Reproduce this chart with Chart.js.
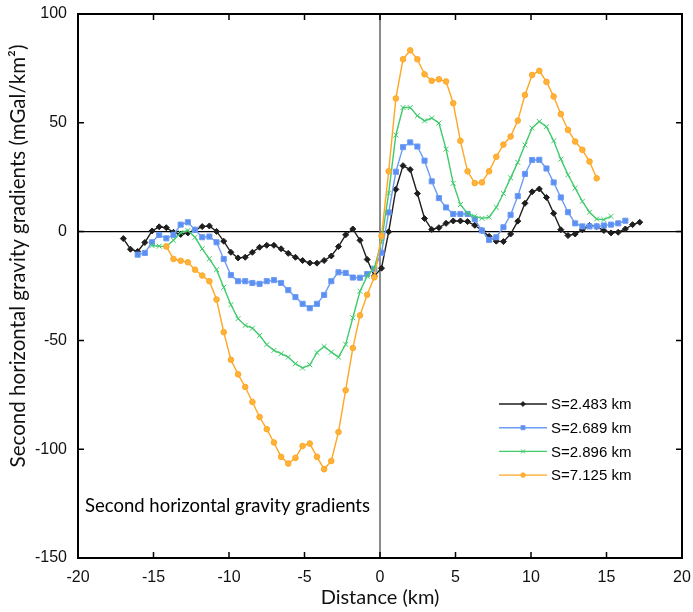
<!DOCTYPE html>
<html>
<head>
<meta charset="utf-8">
<script src="https://cdn.jsdelivr.net/npm/chart.js@4"></script>
<style>
  html, body { margin: 0; padding: 0; background: #fff; }
  #wrap { width: 693px; height: 612px; }
</style>
</head>
<body>
<div id="wrap"><canvas id="gradChart" width="693" height="612"></canvas></div>
<script>
// Profile distance (km)
const distance = [
  -17.0, -16.525, -16.05, -15.575, -15.1, -14.625, -14.15, -13.675, -13.2, -12.725,
  -12.25, -11.775, -11.3, -10.825, -10.35, -9.875, -9.4, -8.925, -8.45, -7.975,
  -7.5, -7.025, -6.55, -6.075, -5.6, -5.125, -4.65, -4.175, -3.7, -3.225,
  -2.75, -2.275, -1.8, -1.325, -0.85, -0.375, 0.1, 0.575, 1.05, 1.525,
  2.0, 2.475, 2.95, 3.425, 3.9, 4.375, 4.85, 5.325, 5.8, 6.275,
  6.75, 7.225, 7.7, 8.175, 8.65, 9.125, 9.6, 10.075, 10.55, 11.025,
  11.5, 11.975, 12.45, 12.925, 13.4, 13.875, 14.35, 14.825, 15.3, 15.775,
  16.25, 16.725, 17.2
];

// S=2.483 km
const s2483 = [
  -3.2, -8.1, -9.1, -5.0, 0.3, 2.2, 1.8, -0.3, -1.3, -0.6,
  0.8, 2.3, 2.6, 0.1, -4.4, -9.5, -12.1, -11.8, -9.5, -7.2,
  -6.3, -6.3, -7.9, -10.0, -11.8, -13.3, -14.4, -14.5, -13.3, -11.2,
  -6.9, -1.5, 1.2, -4.0, -12.8, -20.4, -16.8, -0.1, 19.4, 30.3,
  28.5, 17.5, 6.0, 1.0, 1.8, 3.8, 4.9, 4.9, 4.6, 2.9,
  0.5, -2.2, -4.4, -4.6, -1.1, 4.8, 13.0, 18.3, 19.6, 15.7,
  8.4, 0.9, -1.8, -1.1, 0.8, 2.8, 2.3, 0.5, -0.6, -0.3,
  1.2, 3.2, 4.3
];

// S=2.689 km
const s2689 = [
  null, null, -10.6, -9.8, -4.9, -1.5, -3.1, -1.5, 3.2, 4.3,
  0.8, -2.6, -2.3, -4.9, -12.6, -20.0, -22.8, -22.8, -23.6, -24.0,
  -22.8, -22.3, -23.6, -26.9, -30.1, -33.2, -35.2, -33.2, -29.1, -22.8,
  -18.7, -19.0, -21.1, -21.2, -19.5, -17.1, -9.7, 8.8, 27.5, 38.8,
  41.0, 39.1, 32.6, 23.1, 15.4, 11.1, 8.1, 8.1, 8.1, 5.7,
  0.5, -3.8, -2.6, 2.0, 7.7, 16.3, 26.5, 32.9, 33.0, 29.0,
  22.6, 15.7, 8.9, 3.8, 2.4, 2.4, 2.4, 2.8, 3.2, 3.8,
  5.0, null, null
];

// S=2.896 km
const s2896 = [
  null, null, null, null, -6.4, -6.7, -6.8, -4.0, -0.5, 0.5,
  -2.6, -7.9, -12.5, -17.5, -25.6, -33.6, -40.0, -43.1, -44.4, -47.7,
  -52.0, -54.6, -56.1, -57.7, -60.7, -62.7, -61.2, -55.6, -52.8, -55.4,
  -57.7, -51.8, -39.6, -27.4, -20.5, -16.7, -4.6, 17.7, 44.4, 57.0,
  57.0, 53.2, 50.9, 52.2, 49.9, 37.9, 22.2, 12.4, 8.4, 7.0,
  6.1, 6.6, 11.1, 17.5, 24.7, 31.8, 39.8, 47.6, 50.6, 48.2,
  41.7, 33.3, 26.1, 20.0, 13.9, 8.9, 5.8, 5.5, 7.0, null,
  null, null, null
];

// S=7.125 km
const s7125 = [
  null, null, null, null, null, null, -6.8, -12.6, -13.4, -14.1,
  -17.5, -20.2, -22.8, -31.2, -46.2, -58.9, -65.6, -71.4, -78.3, -85.2,
  -90.8, -96.9, -103.5, -106.6, -104.0, -98.5, -97.4, -103.5, -109.2, -105.4,
  -92.1, -72.9, -53.5, -38.5, -29.0, -21.0, -2.0, 27.7, 61.2, 79.2,
  83.3, 79.2, 72.3, 69.3, 70.0, 69.0, 59.0, 41.7, 27.7, 22.3,
  22.6, 27.7, 34.4, 40.0, 43.7, 51.0, 62.8, 72.0, 73.9, 68.8,
  62.1, 54.0, 46.7, 41.4, 37.6, 32.2, 24.5, null, null, null,
  null, null, null
];

const seriesLabels = ['S=2.483 km', 'S=2.689 km', 'S=2.896 km', 'S=7.125 km'];
const xTicks = [-20, -15, -10, -5, 0, 5, 10, 15, 20];
const yTicks = [-150, -100, -50, 0, 50, 100];
const annotationText = 'Second horizontal gravity gradients';
const yTitleText = 'Second horizontal gravity gradients (mGal/km²)';

const toPoints = vals => vals
  .map((v, i) => ({ x: distance[i], y: v }))
  .filter(p => p.y !== null);

const styles = [
  { color: '#1e1e1e', point: 'rectRot', radius: 3, fill: '#1e1e1e', order: 4 },
  { color: '#6d9cf4', point: 'rect', radius: 3.6, fill: '#5b8ff2', order: 3 },
  { color: '#3fca6c', point: 'crossRot', radius: 3.5, fill: '#3fca6c', order: 2 },
  { color: '#ffa623', point: 'circle', radius: 2.8, fill: '#ffb33a', order: 1 }
];

const datasets = [s2483, s2689, s2896, s7125].map((vals, i) => ({
  label: seriesLabels[i],
  data: toPoints(vals),
  showLine: true,
  borderColor: styles[i].color,
  borderWidth: 1.4,
  pointStyle: styles[i].point,
  pointRadius: styles[i].radius,
  pointBackgroundColor: styles[i].fill,
  pointBorderColor: styles[i].color,
  pointBorderWidth: 1,
  order: styles[i].order
}));

// Frame, inward ticks, zero lines, y title, in-plot label and legend
Chart.register({
  id: 'plotDecor',
  beforeDatasetsDraw(chart) {
    const { ctx, chartArea: { top, bottom, left, right }, scales } = chart;
    const x0 = scales.x.getPixelForValue(0);
    const y0 = scales.y.getPixelForValue(0);
    ctx.save();
    ctx.lineWidth = 1.2;
    ctx.strokeStyle = '#000';
    ctx.beginPath();
    ctx.moveTo(left, y0);
    ctx.lineTo(right, y0);
    ctx.stroke();
    ctx.lineWidth = 1.8;
    ctx.strokeStyle = '#7f7f7f';
    ctx.beginPath();
    ctx.moveTo(x0, top);
    ctx.lineTo(x0, bottom);
    ctx.stroke();
    ctx.restore();
  },
  afterDraw(chart) {
    const { ctx, chartArea: { top, bottom, left, right }, scales } = chart;
    ctx.save();
    ctx.strokeStyle = '#000';
    ctx.lineWidth = 1.5;
    ctx.beginPath();
    xTicks.slice(1, -1).forEach(v => {
      const px = scales.x.getPixelForValue(v);
      ctx.moveTo(px, bottom);
      ctx.lineTo(px, bottom - 6);
      ctx.moveTo(px, top);
      ctx.lineTo(px, top + 6);
    });
    yTicks.slice(1, -1).forEach(v => {
      const py = scales.y.getPixelForValue(v);
      ctx.moveTo(left, py);
      ctx.lineTo(left + 6, py);
      ctx.moveTo(right, py);
      ctx.lineTo(right - 6, py);
    });
    ctx.stroke();
    ctx.lineWidth = 2;
    ctx.strokeRect(left, top, right - left, bottom - top);

    // y axis title (sized to the original's length, sits a bit above centre)
    ctx.fillStyle = '#111';
    ctx.font = '20px Lato';
    const fit = 20 * 423 / ctx.measureText(yTitleText).width;
    ctx.font = fit.toFixed(2) + 'px Lato';
    ctx.translate(18, 256);
    ctx.rotate(-Math.PI / 2);
    ctx.textAlign = 'center';
    ctx.textBaseline = 'middle';
    ctx.fillText(yTitleText, 0, 0);
    ctx.setTransform(1, 0, 0, 1, 0, 0);
    ctx.textAlign = 'left';

    // text inside the plot
    ctx.fillStyle = '#000';
    ctx.font = '18.5px Lato';
    ctx.fillText(annotationText, 85, 506);

    // legend
    ctx.font = '15px "Liberation Sans"';
    chart.data.datasets.forEach((ds, i) => {
      const y = 404 + i * 23.7;
      ctx.strokeStyle = ds.borderColor;
      ctx.lineWidth = 1.4;
      ctx.beginPath();
      ctx.moveTo(499, y);
      ctx.lineTo(547, y);
      ctx.stroke();
      ctx.fillStyle = ds.pointBackgroundColor;
      ctx.strokeStyle = ds.pointBorderColor;
      ctx.lineWidth = 1;
      Chart.helpers.drawPoint(ctx, {
        pointStyle: ds.pointStyle,
        radius: ds.pointRadius * 0.8,
        borderWidth: 1
      }, 523, y);
      ctx.fillStyle = '#000';
      ctx.fillText(ds.label, 551, y + 1);
    });
    ctx.restore();
  }
});

new Chart(document.getElementById('gradChart').getContext('2d'), {
  type: 'scatter',
  data: { datasets },
  options: {
    responsive: false,
    animation: false,
    layout: { padding: { left: 0, right: 11, top: 14, bottom: 0 } },
    scales: {
      x: {
        type: 'linear',
        min: -20,
        max: 20,
        afterFit: s => {
          s.height = 54;
          s.paddingLeft = 0;
          s.paddingRight = 0;
        },
        afterBuildTicks: s => { s.ticks = xTicks.map(v => ({ value: v })); },
        grid: { display: false, drawTicks: false },
        border: { display: false },
        ticks: {
          color: '#111',
          padding: 10,
          maxRotation: 0,
          font: { family: '"Liberation Sans"', size: 16 }
        },
        title: {
          display: true,
          text: 'Distance (km)',
          color: '#111',
          padding: { top: 0, bottom: 2 },
          font: { family: 'Lato', size: 20 }
        }
      },
      y: {
        type: 'linear',
        min: -150,
        max: 100,
        afterFit: s => {
          s.width = 78;
          s.paddingTop = 0;
          s.paddingBottom = 0;
        },
        afterBuildTicks: s => { s.ticks = yTicks.map(v => ({ value: v })); },
        grid: { display: false, drawTicks: false },
        border: { display: false },
        ticks: {
          color: '#111',
          padding: 11,
          font: { family: '"Liberation Sans"', size: 16 }
        },
        title: { display: false }
      }
    },
    plugins: {
      legend: { display: false },
      tooltip: { enabled: false }
    }
  }
});
</script>
</body>
</html>
